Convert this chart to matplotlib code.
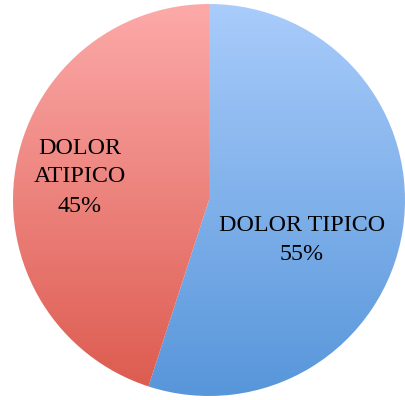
import numpy as np
import matplotlib.pyplot as plt
from matplotlib.colors import LinearSegmentedColormap

# datos
categorias = ["DOLOR TIPICO", "DOLOR\nATIPICO"]
porcentajes = [55, 45]
colores_arriba = ["#a9ccfb", "#fcaaa9"]
colores_abajo = ["#5796da", "#dc5a4e"]

fig = plt.figure(figsize=(4.05, 4.0), dpi=100)
ax = fig.add_axes([0, 0, 1, 1])

cx, cy, r = 209, 200, 196
wedges, _ = ax.pie(porcentajes, startangle=90, counterclock=False,
                   center=(cx, cy), radius=r, frame=True,
                   wedgeprops=dict(facecolor="none", edgecolor="none"))
ax.set_xlim(0, 405)
ax.set_ylim(0, 400)
ax.set_aspect("equal")
ax.axis("off")

# relleno degradado vertical dentro de cada porcion
grad = np.linspace(0, 1, 256).reshape(-1, 1)
for w, c1, c2 in zip(wedges, colores_arriba, colores_abajo):
    cmap = LinearSegmentedColormap.from_list("g", [c2, c1])
    im = ax.imshow(grad, cmap=cmap, origin="lower", aspect="auto",
                   extent=(cx - r, cx + r, cy - r, cy + r), zorder=1)
    im.set_clip_path(w)

# etiquetas
ax.text(302, 160, f"{categorias[0]}\n{porcentajes[0]}%", ha="center", va="center",
        fontsize=17.3, family="Liberation Serif", linespacing=1.5, zorder=3)
ax.text(80, 223, f"{categorias[1]}\n{porcentajes[1]}%", ha="center", va="center",
        fontsize=17.3, family="Liberation Serif", linespacing=1.5, zorder=3)

fig.savefig("out.png", dpi=100)
